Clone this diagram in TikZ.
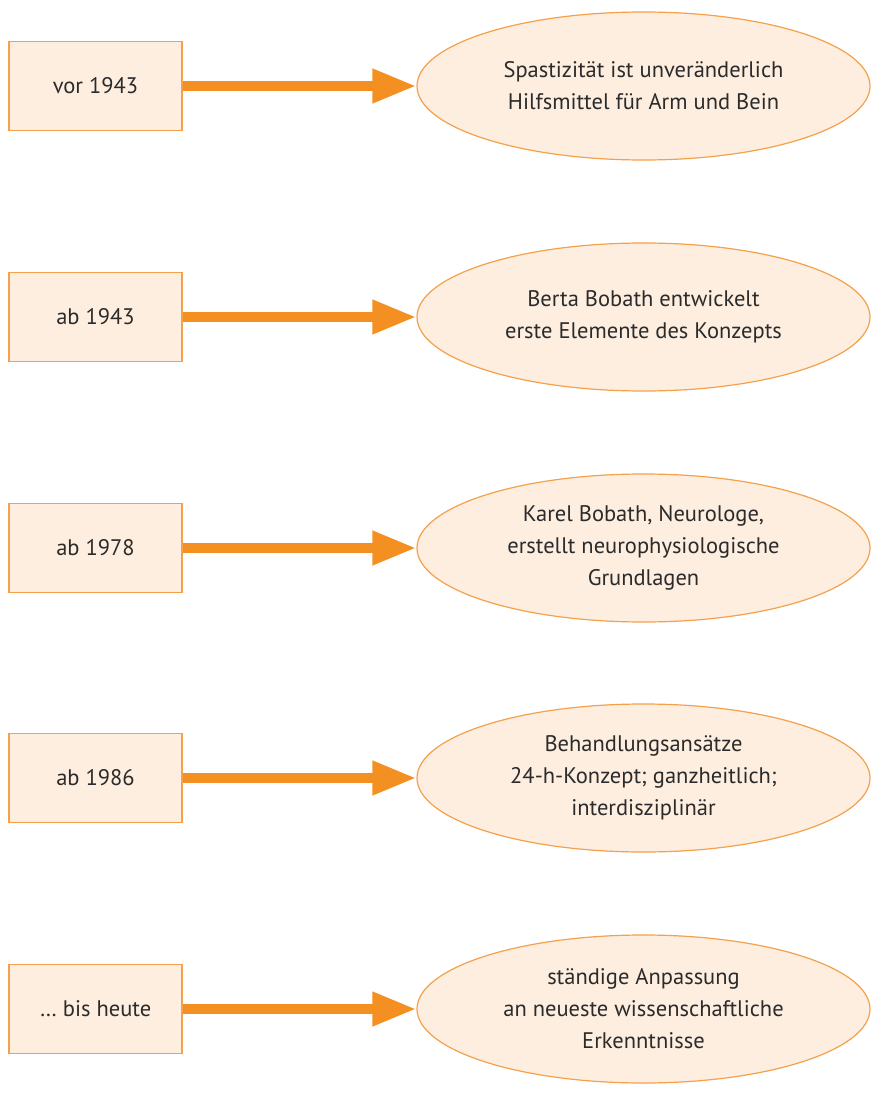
\documentclass[tikz,border=0pt]{standalone}
\usepackage{fontspec}
\setmainfont{PT Sans}
\usetikzlibrary{arrows.meta,shapes.geometric}
\definecolor{orfill}{HTML}{FDEEE0}
\definecolor{orline}{HTML}{F5A04A}
\definecolor{orarrow}{HTML}{F39021}
\definecolor{txt}{HTML}{2B2B2B}
\tikzset{
  yearbox/.style={draw=orline, fill=orfill, line width=1.2pt, minimum width=173pt, minimum height=89pt, inner sep=0pt, font=\fontsize{22.5}{32}\selectfont, text=txt},
  event/.style={ellipse, draw=orline, fill=orfill, line width=1.2pt, minimum width=453pt, minimum height=148pt, inner sep=0pt, align=center, font=\fontsize{22.5}{32}\selectfont, text=txt},
  bigarrow/.style={draw=orarrow, line width=10pt, -{Triangle[length=44pt,width=32pt]}}
}
\begin{document}
\begin{tikzpicture}[x=1pt,y=-1pt]
\useasboundingbox (0,0) rectangle (872,1097);
\foreach \i/\yr/\ev [count=\n] in {
  86/vor 1943/{Spastizität ist unveränderlich\\Hilfsmittel für Arm und Bein},
  317/ab 1943/{Berta Bobath entwickelt\\erste Elemente des Konzepts},
  548/ab 1978/{Karel Bobath, Neurologe,\\erstellt neurophysiologische\\Grundlagen},
  778/ab 1986/{Behandlungsansätze\\24-h-Konzept; ganzheitlich;\\interdisziplinär},
  1009/… bis heute/{ständige Anpassung\\an neueste wissenschaftliche\\Erkenntnisse}} {
  \node[yearbox] (y\n) at (95.5,\i) {\yr};
  \node[event] (e\n) at (643.5,\i) {\ev};
  \draw[bigarrow] (y\n.east) -- (e\n.west);
}
\end{tikzpicture}
\end{document}
